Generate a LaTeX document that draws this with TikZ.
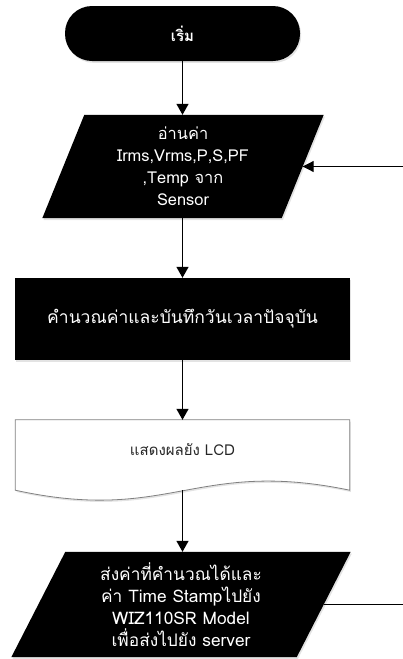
\documentclass[tikz,border=0pt]{standalone}
\usepackage{fontspec}
\newfontfamily\thai[Script=Thai]{Loma}
\usetikzlibrary{arrows.meta,backgrounds,shadows}
\begin{document}
\begin{tikzpicture}[x=1pt,y=-1pt,
  every node/.style={font=\thai\fontsize{15}{22}\selectfont, align=center, inner sep=0pt},
  shad/.style={drop shadow={opacity=0.22, shadow xshift=1.2pt, shadow yshift=-1.8pt}},
  term/.style={rectangle, rounded corners=27pt, minimum width=235pt, minimum height=55pt, fill=black, text=white, shad},
  iobox/.style={rectangle, text=white},
  procbox/.style={rectangle, minimum width=335pt, minimum height=82pt, fill=black, text=white, shad},
  docbox/.style={rectangle, minimum width=334pt, minimum height=70pt, text=black!85, text height=12pt, text depth=11pt},
  arr/.style={line width=1.4pt, -{Triangle[width=12pt,length=11pt]}},
  looparr/.style={line width=1pt, -{Triangle[width=11pt,length=11pt]}}
]
\useasboundingbox (0,0) rectangle (403,659);
\clip (0,0) rectangle (403,659);

\node[term] (start) at (182.5,33.5) {\bfseries เริ่ม};

\node[iobox, minimum width=239pt, minimum height=103pt, font=\thai\fontsize{16.4}{22}\selectfont] (read) at (183,166.5)
  {อ่านค่า\\Irms,Vrms,P,S,PF\\,Temp จาก\\Sensor};

\node[procbox, font=\thai\fontsize{17.5}{22}\selectfont] (calc) at (182.5,319) {คำนวณค่าและบันทึกวันเวลาปัจจุบัน};

\node[docbox] (lcd) at (182.5,455) {แสดงผลยัง LCD};

\node[iobox, minimum width=285pt, minimum height=105pt, font=\thai\fontsize{17.3}{22}\selectfont] (send) at (181,604.5)
  {ส่งค่าที่คำนวณได้และ\\ค่า Time Stampไปยัง\\WIZ110SR Model\\เพื่อส่งไปยัง server};

\begin{scope}[on background layer]
  \fill[black, shad] ([xshift=21pt]read.north west) -- ([xshift=21pt]read.north east)
    -- ([xshift=-21pt]read.south east) -- ([xshift=-21pt]read.south west) -- cycle;
  \filldraw[fill=white, draw=black!50, line width=0.8pt, shad] (lcd.south west) -- (lcd.north west)
    -- (lcd.north east) -- (lcd.south east)
    .. controls (195,458) and (170,524) .. (lcd.south west) -- cycle;
  \fill[black, shad] ([xshift=27pt]send.north west) -- ([xshift=27pt]send.north east)
    -- ([xshift=-27pt]send.south east) -- ([xshift=-27pt]send.south west) -- cycle;
\end{scope}

\draw[arr] (start) -- (start |- read.north);
\draw[arr] (calc |- read.south) -- (calc);
\draw[arr] (calc) -- (lcd);
\draw[arr] (lcd.south) -- (lcd.south |- send.north);
\draw[looparr] (send.east) -- ++(110,0) |- (read.east);
\end{tikzpicture}
\end{document}
